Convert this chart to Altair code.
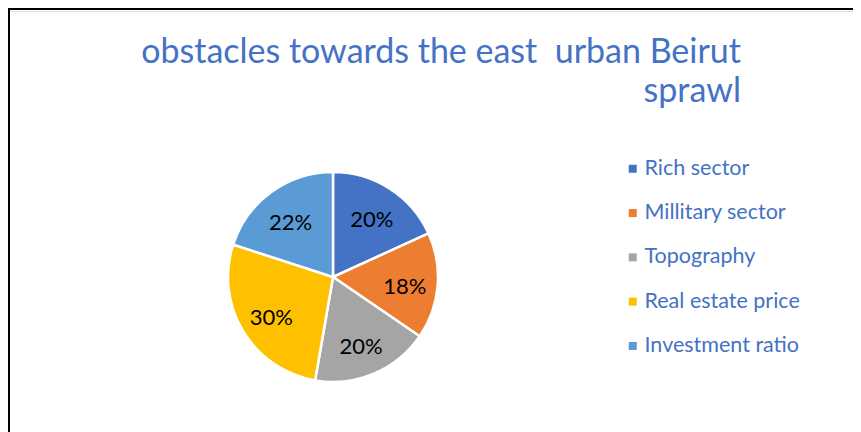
import altair as alt
import pandas as pd

# ---- data ----
categories = ["Rich sector", "Millitary sector", "Topography", "Real estate price", "Investment ratio"]
values = [20, 18, 20, 30, 22]
labels = ["20%", "18%", "20%", "30%", "22%"]
colors = ["#4472C4", "#ED7D31", "#A5A5A5", "#FFC000", "#5B9BD5"]
title_lines = ["obstacles towards the east\u00a0 urban Beirut", "sprawl"]

df = pd.DataFrame({
    "category": categories,
    "value": values,
    "label": labels,
    "idx": list(range(len(categories))),
})

FONT = "Lato"
TITLE_COLOR = "#4472C4"
CX, CY = 325, 266

base = alt.Chart(df).encode(
    theta=alt.Theta("value:Q", stack=True),
    order=alt.Order("idx:Q", sort="ascending"),
)

arcs = base.mark_arc(outerRadius=105, stroke="white", strokeWidth=2.5).encode(
    color=alt.Color(
        "category:N",
        scale=alt.Scale(domain=categories, range=colors),
        legend=alt.Legend(
            title=None,
            orient="none",
            legendX=614,
            legendY=147,
            symbolType="square",
            symbolSize=64,
            symbolStrokeWidth=0,
            labelFont=FONT,
            labelFontSize=21.5,
            labelColor=TITLE_COLOR,
            labelOffset=1,
            rowPadding=21.3,
            padding=0,
            labelLimit=300,
        ),
    ),
    x=alt.value(CX),
    y=alt.value(CY),
)

texts = base.mark_text(radius=72, fontSize=22, font=FONT, color="black", dy=4).encode(
    text="label:N",
    x=alt.value(CX),
    y=alt.value(CY),
)

title_df = pd.DataFrame({"t": ["\n".join(title_lines)]})
title = alt.Chart(title_df).mark_text(
    font=FONT, fontSize=34, color=TITLE_COLOR, align="right",
    baseline="alphabetic", lineBreak="\n", lineHeight=39,
).encode(text="t:N", x=alt.value(733), y=alt.value(51.5))

frame_df = pd.DataFrame({"k": [0]})
left_rule = alt.Chart(frame_df).mark_rule(color="black", strokeWidth=2).encode(
    x=alt.value(1), y=alt.value(-3), y2=alt.value(440)
)
top_rule = alt.Chart(frame_df).mark_rule(color="black", strokeWidth=2).encode(
    x=alt.value(0), x2=alt.value(853), y=alt.value(-2)
)

chart = alt.layer(arcs, texts, title, left_rule, top_rule).properties(
    width=845,
    height=421,
    autosize=alt.AutoSizeParams(type="none"),
    padding={"left": 0, "top": 3, "right": 0, "bottom": 0},
).configure_view(stroke=None).configure(background="white")

chart.save("out.html", embed_options={"renderer": "svg", "actions": False})
